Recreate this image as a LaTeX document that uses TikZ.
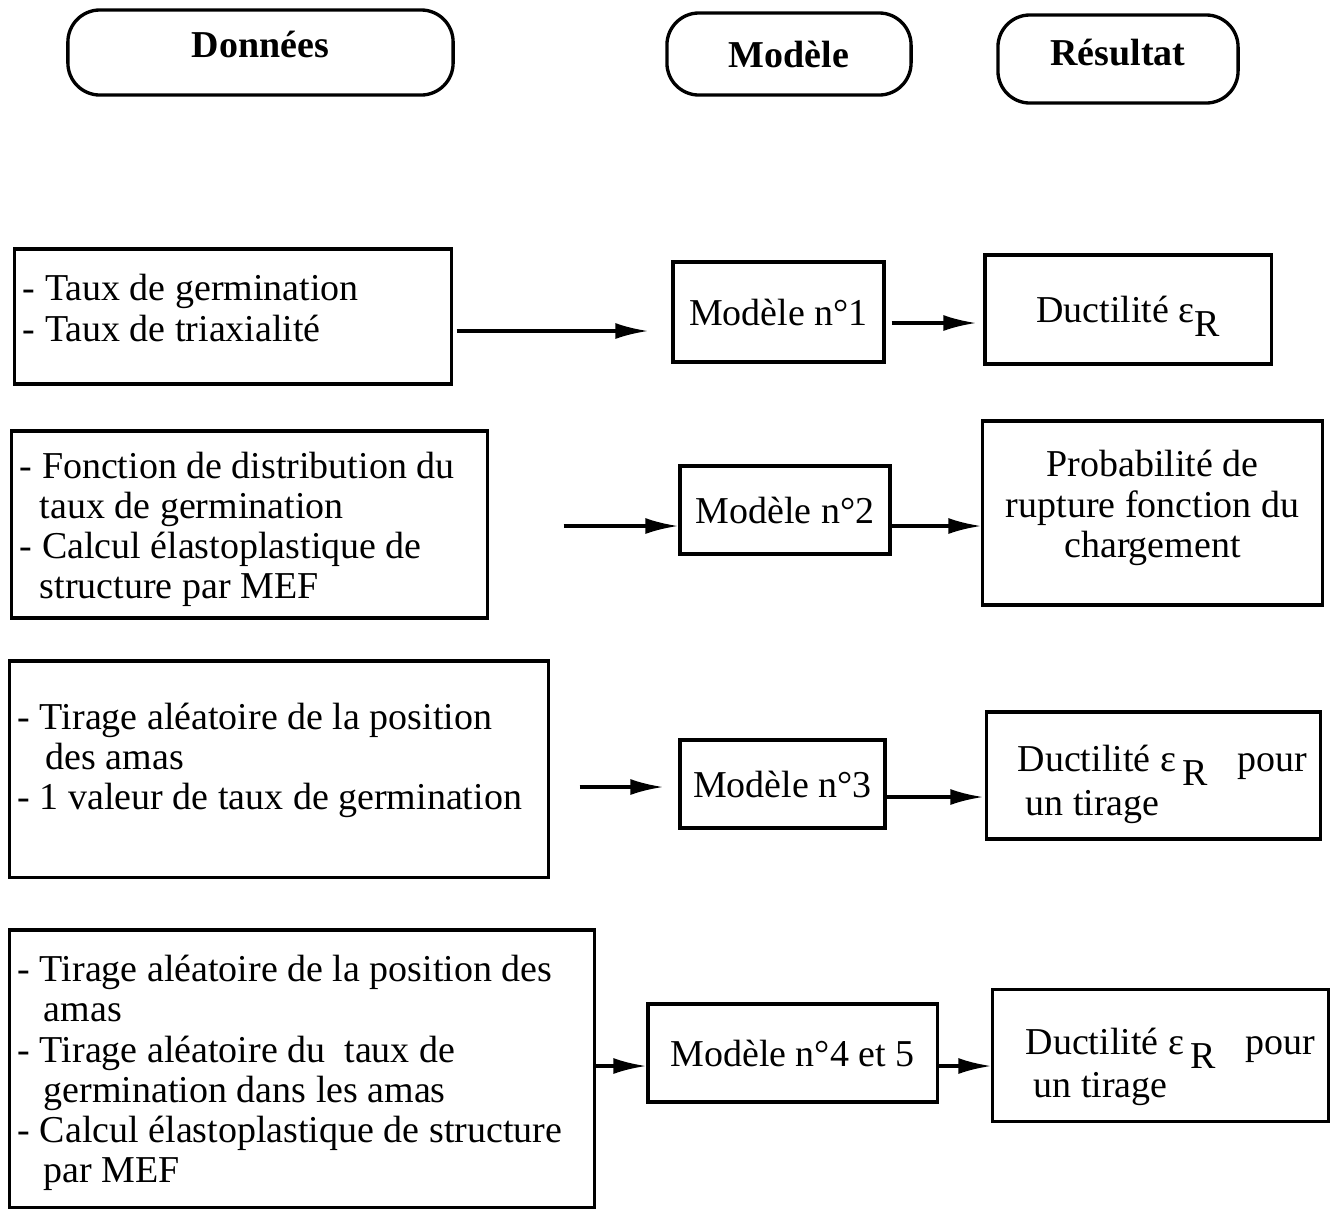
\documentclass[tikz,border=0pt]{standalone}
\usepackage{fontspec}
\setmainfont{Liberation Serif}
\usetikzlibrary{arrows.meta,calc}
\newcommand{\diagfont}{\fontsize{10.8}{11.4}\selectfont}
% blocs de lignes, sans coupure
\newcommand{\leftblock}[2]{\makebox[#1][l]{\begin{tabular}{@{}l@{}}#2\end{tabular}}}
\newcommand{\centerblock}[1]{\begin{tabular}{@{}c@{}}#1\end{tabular}}
\newcommand{\resblock}[2]{\begin{tabular}{@{\hspace{#1}}l@{}}#2\end{tabular}}
\tikzset{
  headbox/.style={draw, line width=0.95pt, rounded corners=0.32cm, font=\diagfont\bfseries},
  datbox/.style={draw, line width=0.9pt, inner xsep=0.08cm, font=\diagfont},
  modbox/.style={draw, line width=0.9pt, align=center, font=\diagfont},
  arr/.style={line width=0.95pt, -{Latex[length=0.33cm,width=0.16cm]}}
}
\begin{document}
\begin{tikzpicture}[x=0.01cm,y=-0.01cm]
\useasboundingbox (0,0) rectangle (1330,1211);
% en-tetes
\node[headbox, minimum width=3.85cm, minimum height=0.85cm] (hdon) at (260.5,52.5) {\centerblock{Données\\[0.07cm]}};
\node[headbox, minimum width=2.44cm, minimum height=0.82cm] (hmod) at (789,54) {Modèle};
\node[headbox, minimum width=2.40cm, minimum height=0.88cm] (hres) at (1118,59) {\centerblock{Résultat\\[0.04cm]}};
% donnees
\node[datbox, minimum height=1.35cm] (d1) at (233,316.5)
  {\leftblock{4.20cm}{- Taux de germination\\- Taux de triaxialité\\[0.07cm]}};
\node[datbox, minimum height=1.87cm] (d2) at (249.5,524.5)
  {\leftblock{4.59cm}{- Fonction de distribution du\\\hspace*{0.2cm}taux de germination\\- Calcul élastoplastique de\\\hspace*{0.2cm}structure par MEF\\[-0.12cm]}};
\node[datbox, minimum height=2.16cm] (d3) at (279,769)
  {\leftblock{5.22cm}{- Tirage aléatoire de la position\\\hspace*{0.28cm}des amas\\- 1 valeur de taux de germination\\[0.145cm]}};
\node[datbox, minimum height=2.77cm] (d4) at (302,1068.5)
  {\leftblock{5.68cm}{- Tirage aléatoire de la position des\\\hspace*{0.26cm}amas\\- Tirage aléatoire du\ \ taux de\\\hspace*{0.26cm}germination dans les amas\\- Calcul élastoplastique de structure\\\hspace*{0.26cm}par MEF\\[-0.11cm]}};
% modeles
\node[modbox, minimum width=2.11cm, minimum height=1.00cm] (m1) at (778.5,312) {Modèle n°1};
\node[modbox, minimum width=2.10cm, minimum height=0.88cm] (m2) at (785,510) {Modèle n°2};
\node[modbox, minimum width=2.05cm, minimum height=0.88cm] (m3) at (782.5,784) {Modèle n°3};
\node[modbox, minimum width=2.89cm, minimum height=0.98cm] (m4) at (792.5,1053) {Modèle n°4 et 5};
% resultats
\node[modbox, minimum width=2.86cm, minimum height=1.09cm] (r1) at (1128,309.5)
  {Ductilité ε\raisebox{-4pt}[0pt][0pt]{R}};
\node[modbox, minimum width=3.39cm, minimum height=1.84cm] (r2) at (1152.5,513)
  {\centerblock{Probabilité de\\rupture fonction du\\chargement\\[0.08cm]}};
\node[modbox, minimum width=3.33cm, minimum height=1.25cm] (r3) at (1153.5,775.5)
  {\resblock{0.18cm}{\rule{0pt}{0.48cm}Ductilité ε\,\raisebox{-4pt}[0pt][0pt]{R}\hspace{0.3cm}pour\\[1pt]\hspace*{0.08cm}un tirage}};
\node[modbox, minimum width=3.35cm, minimum height=1.17cm] (r4) at (1160.5,1055.5)
  {\resblock{0.2cm}{\rule{0pt}{0.53cm}Ductilité ε\,\raisebox{-4pt}[0pt][0pt]{R}\hspace{0.3cm}pour\\[1pt]\hspace*{0.08cm}un tirage}};
% fleches
\draw[arr] ($(d1.east)+(4,14.5)$) -- ($(d1.east -| m1.west)+(-23,14.5)$);
\draw[arr] ($(m1.east)+(6,11)$) -- ($(m1.east -| r1.west)+(-7,11)$);
\draw[arr] ($(d2.east)+(75,1.5)$) -- ($(d2.east -| m2.west)+(0,1.5)$);
\draw[arr] ($(m2.east)+(0,16)$) -- ($(m2.east -| r2.west)+(0,16)$);
\draw[arr] ($(d3.east)+(30,18)$) -- ($(d3.east -| m3.west)+(-15,18)$);
\draw[arr] ($(m3.east)+(0,13)$) -- ($(m3.east -| r3.west)+(-2,13)$);
\draw[arr] ($(d4.east)+(0,-2.5)$) -- ($(d4.east -| m4.west)+(0,-2.5)$);
\draw[arr] ($(m4.east)+(0,13)$) -- ($(m4.east -| r4.west)+(0,13)$);
\end{tikzpicture}
\end{document}
